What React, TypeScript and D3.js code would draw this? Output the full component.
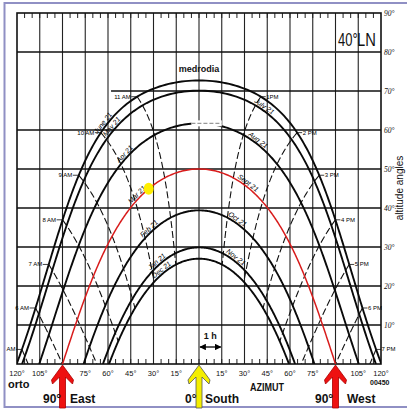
import React from "react";
import * as d3 from "d3";

// ---- data ----
const LATITUDE = 40;
const dateNamesLeft = ["June 21", "May 21", "Apr 21", "Mar 21", "Feb 21", "Jan 21", "Dec 21"];
const dateNamesRight = ["", "July 21", "Aug 21", "Sept 21", "Oct 21", "Nov 21", ""];
const declinations = [22.7, 20.1, 11.7, 0, -10.6, -20.1, -23.0];
const labelAzLeft = [-61, -56, -47, -39, -31, -26, -23];
const labelAzRight = [0, 42, 37, 31, 24, 23, 0];
const hoursAM = [5, 6, 7, 8, 9, 10, 11];
const hourLabelsAM = ["AM", "6 AM", "7 AM", "8 AM", "9 AM", "10 AM", "11 AM"];
const hoursPM = [1, 2, 3, 4, 5, 6, 7];
const hourLabelsPM = ["1PM", "2 PM", "3 PM", "4 PM", "5 PM", "6 PM", "7 PM"];
const azTicks = [-120, -105, -75, -60, -45, -30, -15, 15, 30, 45, 60, 75, 105, 120];
const altTicks = [10, 20, 30, 40, 50, 60, 70, 80, 90];
const markerAz = -33; // yellow sun dot on Mar 21 path

const W = 407, H = 411;
const xScale = d3.scaleLinear().domain([-120, 120]).range([17, 381]);
const yScale = d3.scaleLinear().domain([0, 90]).range([364, 13]);
const R = Math.PI / 180;

function sunPos(dec: number, ha: number): [number, number] {
  const phi = LATITUDE * R, d = dec * R, h = ha * R;
  const sinAlt = Math.sin(phi) * Math.sin(d) + Math.cos(phi) * Math.cos(d) * Math.cos(h);
  const alt = Math.asin(Math.max(-1, Math.min(1, sinAlt))) / R;
  const az = Math.atan2(Math.sin(h), Math.cos(h) * Math.sin(phi) - Math.tan(d) * Math.cos(phi)) / R;
  return [az, alt];
}

function datePath(dec: number): [number, number][] {
  const phi = LATITUDE * R;
  const c = -Math.tan(phi) * Math.tan(dec * R);
  const h0 = Math.acos(Math.max(-1, Math.min(1, c))) / R;
  return d3
    .range(0, 301)
    .map((i) => sunPos(dec, -h0 + (2 * h0 * i) / 300))
    .map(([a, b]) => [a, Math.max(0, b)] as [number, number]);
}

function hourPath(ha: number): [number, number][] {
  const phi = LATITUDE * R;
  const dMax = d3.max(declinations)!;
  const dMin = d3.min(declinations)!;
  const d0 = Math.atan(-Math.cos(ha * R) / Math.tan(phi)) / R;
  const lo = Math.max(dMin, d0);
  if (lo >= dMax) return [];
  return d3.range(0, 101).map((i) => {
    const p = sunPos(dMax - ((dMax - lo) * i) / 100, ha);
    return [p[0], Math.max(0, p[1])] as [number, number];
  });
}

const line = d3
  .line<[number, number]>()
  .x((d) => xScale(d[0]))
  .y((d) => yScale(d[1]));

function labelAt(dec: number, az: number) {
  const pts = datePath(dec).map(([a, b]) => [xScale(a), yScale(b)]);
  const tx = xScale(az);
  let best = 0;
  let bd = Infinity;
  const half = pts.length / 2;
  pts.forEach((p, i) => {
    const wrongSide = az < 0 ? i > half : i < half;
    const dd = Math.abs(p[0] - tx) + (wrongSide ? 1000 : 0);
    if (dd < bd) { bd = dd; best = i; }
  });
  const p0 = pts[Math.max(0, best - 3)];
  const p1 = pts[Math.min(pts.length - 1, best + 3)];
  let dx = p1[0] - p0[0], dy = p1[1] - p0[1];
  const len = Math.hypot(dx, dy) || 1;
  dx /= len; dy /= len;
  const nx = dy, ny = -dx;
  const off = 1.5;
  return { x: pts[best][0] + nx * off, y: pts[best][1] + ny * off, angle: Math.atan2(dy, dx) / R };
}

function Arrow({ cx, fill, stroke }: { cx: number; fill: string; stroke: string }) {
  const top = yScale(0);
  const d = "M0,0 L11,15 L10,19 L3,12 L3,43 L-3,43 L-3,12 L-10,19 L-11,15 Z";
  return <path d={d} transform={`translate(${cx},${top + 1})`} fill={fill} stroke={stroke} strokeWidth={0.8} strokeLinejoin="round" />;
}

export default function App() {
  const x0 = xScale(-120), x1 = xScale(120);
  const y0 = yScale(0), y90 = yScale(90);
  const vGrid = d3.range(-105, 106, 15);
  const hGrid = d3.range(10, 81, 10);
  const ticks5 = d3.range(-115, 116, 5);
  const sans = "'Liberation Sans',Arial,sans-serif";
  const marchPts = datePath(0);
  const marker = marchPts.reduce(
    (b, p) => (p[0] < 0 && Math.abs(p[0] - markerAz) < Math.abs(b[0] - markerAz) ? p : b),
    marchPts[0]
  );
  const aprPeak = sunPos(declinations[2], 0);

  return (
    <svg width={W} height={H} style={{ position: "absolute", left: 0, top: 0, background: "#fff" }} fontFamily={sans}>
      <defs>
        <clipPath id="plot">
          <rect x={x0} y={y90} width={x1 - x0} height={y0 - y90} />
        </clipPath>
        <marker id="ah" viewBox="0 0 10 10" refX="9" refY="5" markerWidth="5" markerHeight="5" orient="auto-start-reverse">
          <path d="M0,0 L10,5 L0,10 Z" fill="#000" />
        </marker>
      </defs>
      <rect x={0} y={0} width={W} height={H} fill="#fff" />
      <rect x={4.5} y={3} width={410} height={404} fill="none" stroke="#9090c4" strokeWidth={2} />

      {/* grid */}
      {vGrid.map((a) => (
        <line key={"v" + a} x1={xScale(a)} x2={xScale(a)} y1={y90} y2={y0} stroke="#222" strokeWidth={1.1} />
      ))}
      {hGrid.map((a) => (
        <line key={"h" + a} x1={a === 70 ? xScale(-58) : x0} x2={x1} y1={yScale(a)} y2={yScale(a)} stroke="#111" strokeWidth={1.6} />
      ))}
      {ticks5.map((a) => (
        <g key={"t" + a}>
          <line x1={xScale(a)} x2={xScale(a)} y1={y90} y2={y90 + 5} stroke="#222" strokeWidth={1} />
          <line x1={xScale(a)} x2={xScale(a)} y1={y0} y2={y0 - 5} stroke="#222" strokeWidth={1} />
        </g>
      ))}
      <rect x={x0} y={y90} width={x1 - x0} height={y0 - y90} fill="none" stroke="#111" strokeWidth={1.6} />

      {/* hour lines and date paths */}
      <g clipPath="url(#plot)">
        {hoursAM.map((h) => (
          <path key={"am" + h} d={line(hourPath((h - 12) * 15)) || ""} fill="none" stroke="#111" strokeWidth={1.1} strokeDasharray="7,3" />
        ))}
        {hoursPM.map((h) => (
          <path key={"pm" + h} d={line(hourPath(h * 15)) || ""} fill="none" stroke="#111" strokeWidth={1.1} strokeDasharray="7,3" />
        ))}
        {declinations.map((dec, i) => (
          <path
            key={"d" + i}
            d={line(datePath(dec)) || ""}
            fill="none"
            stroke={dec === 0 ? "#d81c1c" : "#0a0a0a"}
            strokeWidth={dec === 0 ? 1.5 : 1.9}
          />
        ))}
        <rect x={xScale(-5)} y={yScale(aprPeak[1]) - 3} width={xScale(15) - xScale(-5)} height={6} fill="#fff" />
        <line x1={xScale(-5)} x2={xScale(15)} y1={yScale(aprPeak[1])} y2={yScale(aprPeak[1])} stroke="#999" strokeWidth={1.2} strokeDasharray="4,2" />
      </g>

      {/* hour labels */}
      {hoursAM.map((h, i) => {
        const p = sunPos(declinations[0], (h - 12) * 15);
        const x = xScale(p[0]), y = yScale(p[1]);
        return (
          <g key={"aml" + h}>
            <line x1={x - 6} x2={x} y1={y} y2={y} stroke="#111" strokeWidth={0.8} />
            <text x={x - 6.5} y={y + 2} fontSize={6} textAnchor="end" fill="#000">{hourLabelsAM[i]}</text>
          </g>
        );
      })}
      {hoursPM.map((h, i) => {
        const p = sunPos(declinations[0], h * 15);
        const x = xScale(p[0]), y = yScale(p[1]);
        return (
          <g key={"pml" + h}>
            <line x1={x} x2={x + 5} y1={y} y2={y} stroke="#111" strokeWidth={0.8} />
            <text x={x + 5.5} y={y + 2} fontSize={6} textAnchor="start" fill="#000">{hourLabelsPM[i]}</text>
          </g>
        );
      })}

      {/* date labels */}
      {declinations.map((dec, i) => {
        const L = labelAt(dec, labelAzLeft[i]);
        const Rt = dateNamesRight[i] ? labelAt(dec, labelAzRight[i]) : null;
        return (
          <g key={"dl" + i}>
            <text x={L.x} y={L.y} fontSize={7} fontStyle="italic" textAnchor="middle" transform={`rotate(${L.angle},${L.x},${L.y})`} fill="#000">
              {dateNamesLeft[i]}
            </text>
            {Rt && (
              <text x={Rt.x} y={Rt.y} fontSize={7} fontStyle="italic" textAnchor="middle" transform={`rotate(${Rt.angle},${Rt.x},${Rt.y})`} fill="#000">
                {dateNamesRight[i]}
              </text>
            )}
          </g>
        );
      })}

      {/* sun marker */}
      <ellipse cx={xScale(marker[0])} cy={yScale(marker[1])} rx={5} ry={6} fill="#ffee00" />

      {/* medrodia */}
      <text x={xScale(0)} y={72} fontSize={9} fontWeight="bold" textAnchor="middle" fill="#111">medrodia</text>

      {/* 40° LN */}
      <g transform="translate(338,46) scale(0.72,1)">
        <text x={0} y={0} fontSize={18} fill="#111">40°</text>
      </g>
      <g transform="translate(357,46) scale(0.82,1)">
        <text x={0} y={0} fontSize={18} fill="#111">LN</text>
      </g>

      {/* right axis labels */}
      {altTicks.map((a) => (
        <text key={"al" + a} x={x1 + 3} y={yScale(a) + 3} fontSize={7.5} fontStyle="italic" fontFamily="'Liberation Serif',serif" fill="#111">
          {a}°
        </text>
      ))}
      <text x={403} y={188} fontSize={10} textAnchor="middle" transform="rotate(-90,403,188)" fill="#111">
        altitude angles
      </text>

      {/* bottom azimuth labels */}
      {azTicks.map((a) => (
        <text key={"az" + a} x={xScale(a)} y={376} fontSize={7.5} textAnchor="middle" fill="#111">
          {Math.abs(a)}°
        </text>
      ))}

      {/* 1 h marker */}
      <line x1={xScale(0) + 1} x2={xScale(15) - 1} y1={347} y2={347} stroke="#000" strokeWidth={1.3} markerStart="url(#ah)" markerEnd="url(#ah)" />
      <text x={xScale(7.5)} y={339} fontSize={9} fontWeight="bold" textAnchor="middle" fill="#111">1 h</text>

      {/* arrows */}
      <Arrow cx={xScale(-90)} fill="#ee1111" stroke="#a00" />
      <Arrow cx={xScale(0)} fill="#f4ee00" stroke="#555" />
      <Arrow cx={xScale(90)} fill="#ee1111" stroke="#a00" />

      {/* bottom texts */}
      <text x={8} y={388} fontSize={11} fontWeight="bold" fill="#111">orto</text>
      <text x={43} y={403} fontSize={12} fontWeight="bold" fill="#111">90°</text>
      <text x={70} y={403} fontSize={12} fontWeight="bold" fill="#111">East</text>
      <text x={185} y={403} fontSize={12} fontWeight="bold" fill="#111">0°</text>
      <text x={205} y={403} fontSize={12} fontWeight="bold" fill="#111">South</text>
      <text x={250} y={391} fontSize={11} fontWeight="bold" fill="#111" textLength={34} lengthAdjust="spacingAndGlyphs">AZIMUT</text>
      <text x={315} y={403} fontSize={12} fontWeight="bold" fill="#111">90°</text>
      <text x={347} y={403} fontSize={12} fontWeight="bold" fill="#111">West</text>
      <text x={370} y={385} fontSize={7} fontWeight="bold" fill="#111">00450</text>
    </svg>
  );
}
